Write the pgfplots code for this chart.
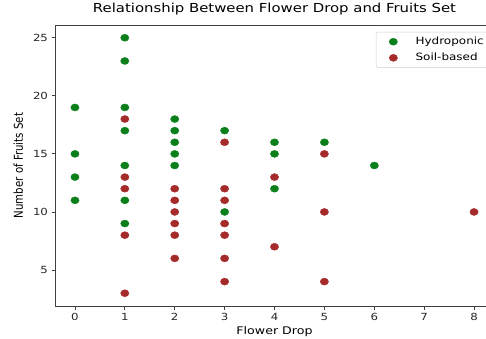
\documentclass[border=0pt]{standalone}
\usepackage{fontspec}
\setmainfont{DejaVu Sans}
\usepackage{pgfplots}
\pgfplotsset{compat=1.18}
\definecolor{hg}{HTML}{0A7F1A}
\definecolor{sr}{HTML}{A52A2A}
\newcommand{\sx}[1]{\scalebox{1.2}[1]{#1}}
\begin{document}
\begin{tikzpicture}
\begin{axis}[
  scale only axis, width=439pt, height=281pt,
  xmin=-0.4, xmax=8.4, ymin=1.9, ymax=26.1,
  xtick={0,...,8}, ytick={5,10,15,20,25},
  tick align=outside, tick pos=left,
  major tick length=3.5pt,
  axis line style={black!75, line width=0.8pt},
  every tick/.style={black!75, line width=0.8pt},
  ticklabel style={font=\fontsize{9.8}{10}\selectfont, text=black!85},
  /pgf/number format/assume math mode=true,
  xticklabel={\sx{\pgfmathprintnumber{\tick}}},
  yticklabel={\sx{\pgfmathprintnumber{\tick}}},
  title={\sx{Relationship Between Flower Drop and Fruits Set}},
  title style={at={(axis description cs:0.5,1.02135)}, anchor=base, font=\fontsize{12.4}{13}\selectfont, inner sep=0pt},
  xlabel={\sx{Flower Drop}},
  xlabel style={at={(axis description cs:0.5,-0.1032)}, anchor=base, font=\fontsize{10.5}{11}\selectfont, inner sep=0pt},
  ylabel={\scalebox{1}[1.2]{Number of Fruits Set}},
  ylabel style={at={(axis description cs:-0.0729,0.5)}, anchor=base, font=\fontsize{10.2}{11}\selectfont, inner sep=0pt},
  legend style={at={(axis description cs:1,1)}, anchor=north east, xshift=-4pt, yshift=-7pt,
    draw=black!20, rounded corners=2pt, font=\fontsize{10}{11}\selectfont,
    inner xsep=4pt, inner ysep=3pt, row sep=3pt},
  legend cell align=left,
  legend image code/.code={\path (0pt,0pt) (33pt,0pt); \draw[mark repeat=2,mark phase=2,#1] plot coordinates {(0pt,0pt) (13pt,0pt) (26pt,0pt)};},
]
\coordinate (sw) at (rel axis cs:0,0);
\coordinate (ne) at (rel axis cs:1,1);
\addplot[only marks, mark=*, mark size=3.5pt, mark options={xscale=1.18, draw=hg, fill=hg}] coordinates {
(0,19)(0,15)(0,13)(0,11)
(1,25)(1,23)(1,19)(1,17)(1,14)(1,11)(1,9)
(2,18)(2,17)(2,16)(2,15)(2,14)
(3,17)(3,10)
(4,16)(4,15)(4,12)
(5,16)
(6,14)
};
\addlegendentry{\sx{Hydroponic}}
\addplot[only marks, mark=*, mark size=3.5pt, mark options={xscale=1.18, draw=sr, fill=sr}] coordinates {
(1,18)(1,13)(1,12)(1,8)(1,3)
(2,12)(2,11)(2,10)(2,9)(2,8)(2,6)
(3,16)(3,12)(3,11)(3,9)(3,8)(3,6)(3,4)
(4,13)(4,7)
(5,15)(5,10)(5,4)
(8,10)
};
\addlegendentry{\sx{Soil-based}}
\end{axis}
\pgfresetboundingbox
\path[use as bounding box] ([shift={(-55pt,-33pt)}]sw) rectangle ([shift={(-8pt,25pt)}]ne);
\end{tikzpicture}
\end{document}
